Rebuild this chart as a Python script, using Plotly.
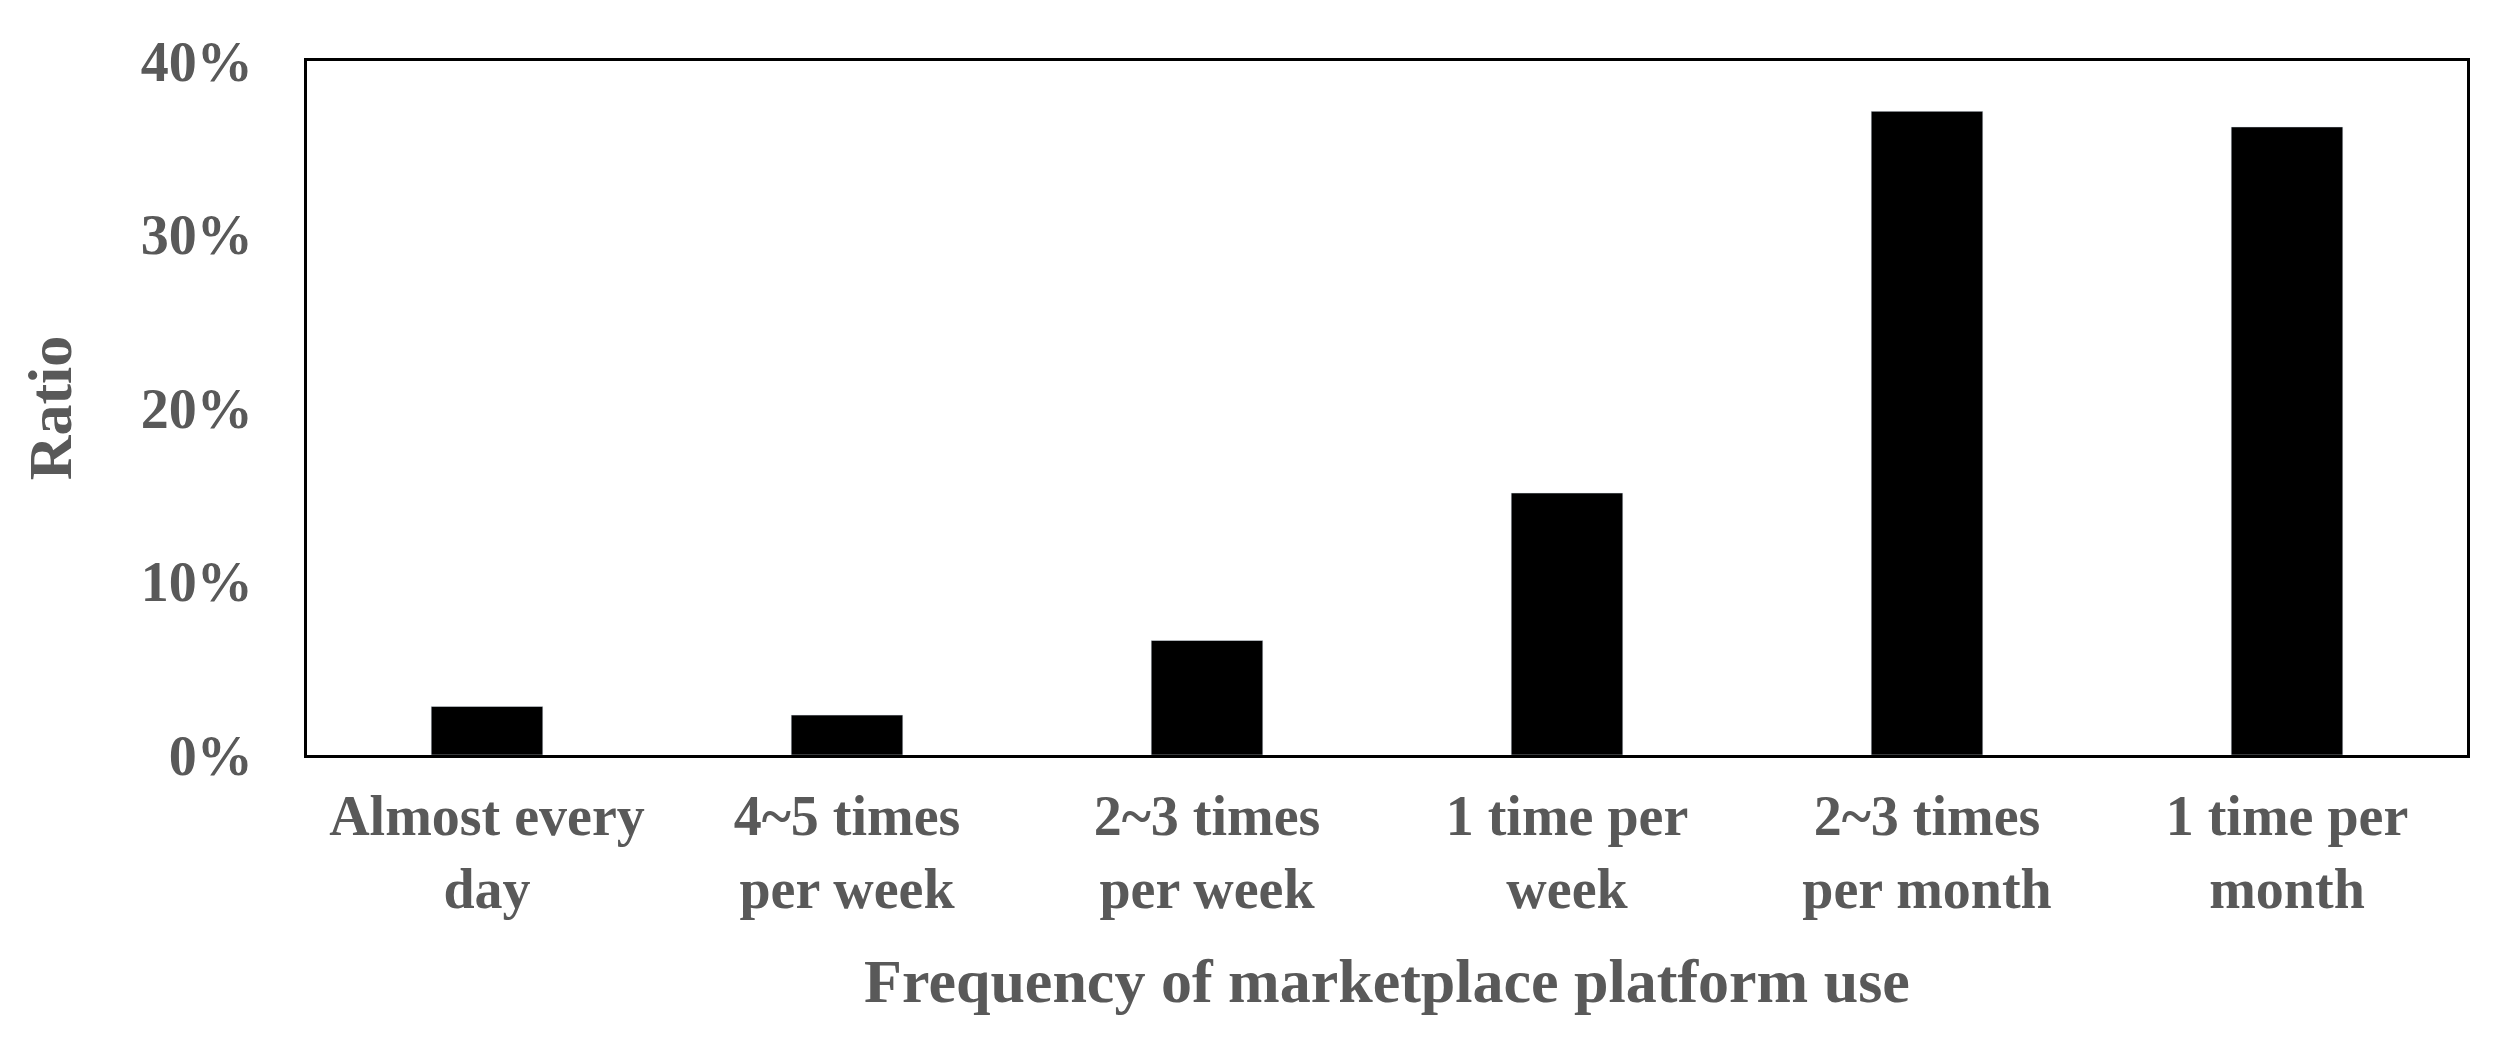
import plotly.graph_objects as go

categories = ["Almost every<br>day", "4~5 times<br>per week", "2~3 times<br>per week",
              "1 time per<br>week", "2~3 times<br>per month", "1 time per<br>month"]
ratios = [0.028, 0.023, 0.066, 0.151, 0.371, 0.362]

grey = "#595959"
font = dict(family="Liberation Serif", color=grey, size=56)

fig = go.Figure(go.Bar(x=categories, y=ratios, marker_color="black", width=0.31))

fig.update_layout(
    width=2508, height=1052,
    margin=dict(l=299, r=49, t=53, b=305),
    plot_bgcolor="white", paper_bgcolor="white",
    font=font, showlegend=False,
    xaxis=dict(
        title=dict(text="<b>Frequency of marketplace platform use</b>", font=dict(size=62), standoff=40),
        tickfont=dict(size=56), showline=True, linecolor="black", linewidth=3, mirror=True,
        ticks="", tickprefix="<b>", ticksuffix="</b>", ticklabelstandoff=10,
    ),
    yaxis=dict(
        title=dict(text="<b>Ratio</b>", font=dict(size=62), standoff=50),
        range=[0, 0.4], dtick=0.1, tickformat=".0%", tickprefix="<b>", ticksuffix="</b>",
        showgrid=False, showline=True, linecolor="black", linewidth=3, mirror=True,
        ticks="", zeroline=False, tickfont=dict(size=56), ticklabelstandoff=40,
    ),
)

fig.write_html("out.html")
